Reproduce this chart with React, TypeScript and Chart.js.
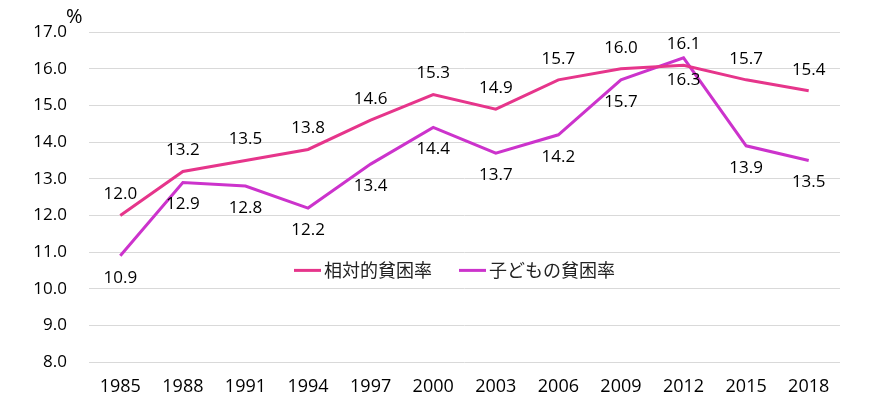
import React, { useEffect, useRef } from "react";
import { Chart, registerables } from "chart.js";

Chart.register(...registerables);

const years = ["1985", "1988", "1991", "1994", "1997", "2000", "2003", "2006", "2009", "2012", "2015", "2018"];
const relativePoverty = [12.0, 13.2, 13.5, 13.8, 14.6, 15.3, 14.9, 15.7, 16.0, 16.1, 15.7, 15.4];
const childPoverty = [10.9, 12.9, 12.8, 12.2, 13.4, 14.4, 13.7, 14.2, 15.7, 16.3, 13.9, 13.5];
const seriesNames = ["相対的貧困率", "子どもの貧困率"];
const seriesColors = ["#E6358B", "#CC33CC"];
const yUnit = "%";

const FONT = "'Open Sans', 'Noto Sans', 'Noto Sans CJK JP', sans-serif";

const overlayPlugin = {
  id: "overlay",
  afterDatasetsDraw(chart: any) {
    const ctx = chart.ctx;
    ctx.save();
    ctx.fillStyle = "#000";
    ctx.font = `17px ${FONT}`;
    ctx.textAlign = "center";
    ctx.textBaseline = "middle";
    chart.data.datasets.forEach((ds: any, di: number) => {
      const meta = chart.getDatasetMeta(di);
      meta.data.forEach((pt: any, i: number) => {
        const v = ds.data[i];
        const dy = di === 0 ? -21 : 22;
        ctx.fillText(v.toFixed(1), pt.x, pt.y + dy);
      });
    });
    // unit label
    const ys = chart.scales.y;
    ctx.font = `20px ${FONT}`;
    ctx.textAlign = "left";
    ctx.fillText(yUnit, 66, ys.top - 15);
    // legend inside plot area
    const ly = ys.getPixelForValue(10.5);
    ctx.font = `18px 'Noto Sans CJK JP', sans-serif`;
    const items = [
      { x: 294, name: seriesNames[0], color: seriesColors[0] },
      { x: 459, name: seriesNames[1], color: seriesColors[1] },
    ];
    items.forEach((it) => {
      ctx.strokeStyle = it.color;
      ctx.lineWidth = 3;
      ctx.beginPath();
      ctx.moveTo(it.x, ly);
      ctx.lineTo(it.x + 27, ly);
      ctx.stroke();
      ctx.fillStyle = "#222";
      ctx.textAlign = "left";
      ctx.fillText(it.name, it.x + 30, ly);
    });
    ctx.restore();
  },
};

export default function App() {
  const ref = useRef<HTMLCanvasElement>(null);
  useEffect(() => {
    document.body.style.margin = "0";
    const chart = new Chart(ref.current!, {
      type: "line",
      data: {
        labels: years,
        datasets: [
          {
            label: seriesNames[0],
            data: relativePoverty,
            borderColor: seriesColors[0],
            backgroundColor: seriesColors[0],
            borderWidth: 3,
            pointRadius: 0,
            tension: 0,
          },
          {
            label: seriesNames[1],
            data: childPoverty,
            borderColor: seriesColors[1],
            backgroundColor: seriesColors[1],
            borderWidth: 3,
            pointRadius: 0,
            tension: 0,
          },
        ],
      },
      options: {
        animation: false,
        responsive: false,
        layout: { padding: { top: 29, right: 32, left: 0, bottom: 0 } },
        plugins: { legend: { display: false }, tooltip: { enabled: false } },
        scales: {
          x: {
            offset: true,
            grid: { display: false, drawTicks: false },
            border: { display: false },
            ticks: { color: "#000", font: { family: FONT, size: 18 }, padding: 14, maxRotation: 0 },
            afterFit: (s: any) => { s.height = 36; },
          },
          y: {
            min: 8,
            max: 17,
            grid: { color: "#d9d9d9", lineWidth: 1, drawTicks: false },
            border: { display: false },
            ticks: {
              stepSize: 1,
              color: "#000",
              font: { family: FONT, size: 17 },
              padding: 22,
              callback: (v: any) => Number(v).toFixed(1),
            },
            afterFit: (s: any) => { s.width = 89; },
          },
        },
      },
      plugins: [overlayPlugin],
    });
    return () => chart.destroy();
  }, []);
  return <canvas ref={ref} width={872} height={398} style={{ display: "block" }} />;
}
